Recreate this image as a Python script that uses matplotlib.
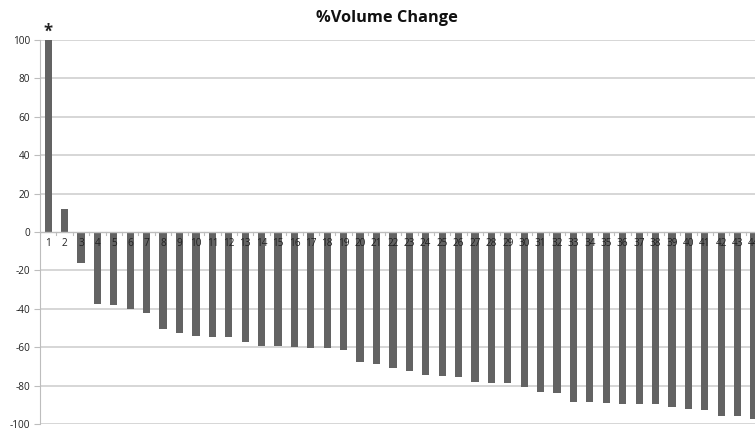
import matplotlib
matplotlib.use("Agg")
import matplotlib.pyplot as plt
import numpy as np

plt.rcParams['font.family'] = ['Open Sans', 'DejaVu Sans']

categories = list(range(1, 45))
values = [100, 12.1, -16.0, -37.4, -37.9, -40.0, -42.1, -50.5, -52.8, -54.2,
          -54.7, -54.7, -57.2, -59.3, -59.6, -59.8, -60.2, -60.5, -61.6, -67.5,
          -68.6, -70.7, -72.6, -74.7, -75.1, -75.6, -78.2, -78.9, -78.9, -80.5,
          -83.2, -83.7, -88.4, -88.6, -89.0, -89.5, -89.6, -89.8, -90.9, -92.1,
          -92.5, -95.6, -95.8, -97.2]
yticks = [-100, -80, -60, -40, -20, 0, 20, 40, 60, 80, 100]
title = "%Volume Change"

fig = plt.figure(figsize=(7.55, 4.37), dpi=100)
ax = fig.add_axes([40/755, 1-424/437, 1-40/755, (424-40)/437])

ax.set_ylim(-100, 100)
ax.set_xlim(0.5, 44.06)

for y in yticks:
    if y != 0:
        ax.axhline(y, color='#cfcfcf', lw=1.2, zorder=0)

ax.bar(categories, values, width=0.44, color='#636363', zorder=2)

# zero axis line with category-boundary ticks
ax.axhline(0, color='#bdbdbd', lw=1.0, zorder=3)
for b in np.arange(0.5, 45, 1):
    ax.plot([b, b], [0, -1.8], color='#bdbdbd', lw=0.8, zorder=3, clip_on=True)

for c in categories:
    ax.text(c, -3.3, str(c), ha='center', va='top', fontsize=7.2,
            color='#222222', zorder=4)

ax.text(1, 99.5, '*', ha='center', va='bottom', fontsize=12,
        fontweight='bold', color='#222222')

ax.set_yticks(yticks)
ax.set_yticklabels([str(v) for v in yticks], fontsize=7.2, color='#222222')
ax.tick_params(axis='y', length=4, color='#bdbdbd', pad=3)
ax.set_xticks([])
for s in ['top', 'right', 'bottom']:
    ax.spines[s].set_visible(False)
ax.spines['left'].set_color('#bdbdbd')

fig.text(387/755, 1-18/437, title, ha='center', va='center',
         fontsize=11.8, fontweight='bold', color='#111111')

fig.savefig('out.png', dpi=100)
